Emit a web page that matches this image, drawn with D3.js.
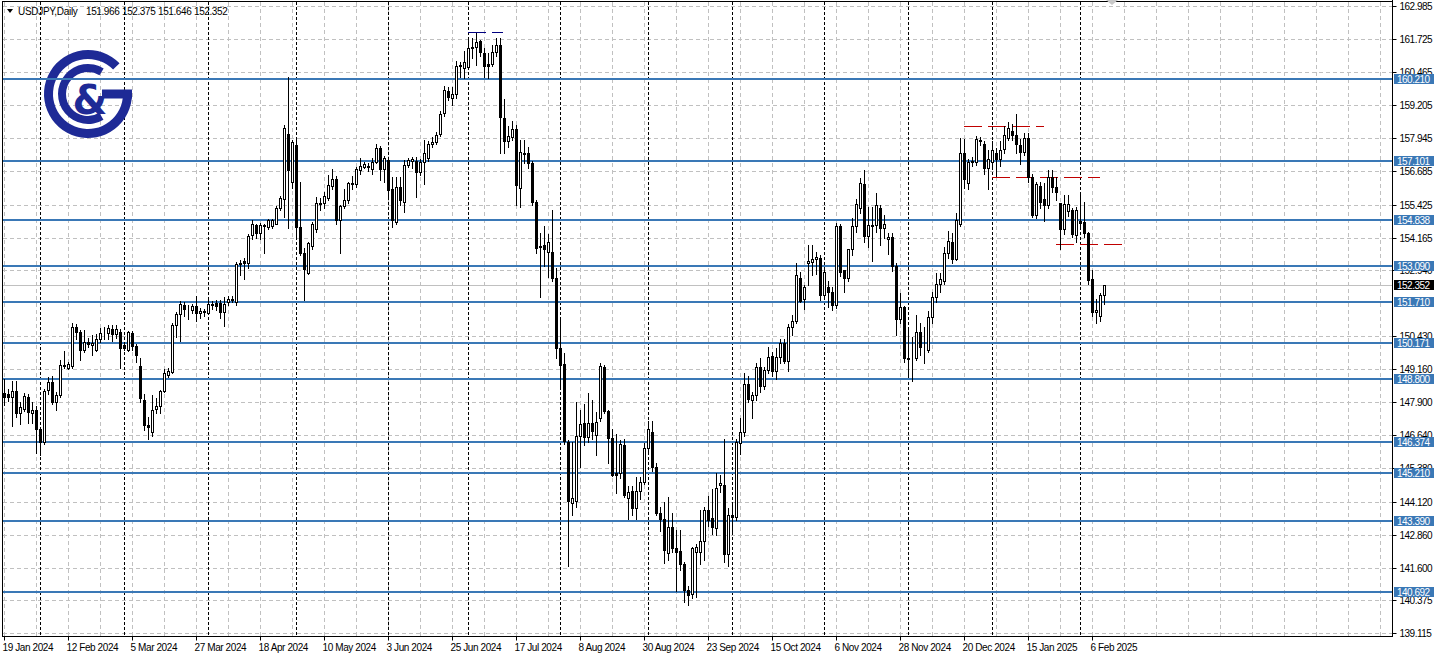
<!DOCTYPE html>
<html><head><meta charset="utf-8">
<script src="https://cdn.jsdelivr.net/npm/d3@7"></script>
<style>html,body{margin:0;padding:0;background:#fff;overflow:hidden}svg{display:block}</style>
</head><body><svg id="c" width="1438" height="658"></svg>
<script>
// ---------------- DATA ----------------
const symbolName = "USDJPY,Daily";
const firstDate = "2024-01-19";
const skippedDays = ["2024-12-25", "2025-01-01"];
const openP = [
148.24,148.20,148.09,148.33,147.48,147.63,148.09,147.48,147.60,146.88,
146.40,148.37,148.66,147.92,148.18,149.32,149.22,149.29,150.78,150.59,
149.89,150.20,150.08,149.89,150.30,150.52,150.52,150.69,150.49,150.59,
150.08,149.89,150.52,150.05,149.28,147.99,147.03,146.78,147.63,147.75,
148.33,148.94,149.06,150.84,151.25,151.60,151.43,151.40,151.56,151.30,
151.36,151.28,151.60,151.69,151.67,151.32,151.73,151.78,151.73,153.16,
153.28,153.20,154.27,154.65,154.36,154.62,154.56,154.60,154.70,155.28,
155.62,158.10,156.30,157.69,154.58,153.59,152.83,153.85,154.48,155.47,
155.47,155.66,156.13,156.38,154.84,155.37,155.60,156.20,156.20,156.74,
156.87,156.90,156.77,157.06,157.57,156.77,157.12,156.00,154.77,156.08,
155.54,156.93,157.10,157.10,156.68,157.06,157.18,157.75,157.80,158.10,
158.90,159.75,159.50,159.62,160.71,160.64,160.67,161.37,161.44,161.65,
161.18,160.76,160.76,161.25,161.50,158.71,157.85,158.00,158.32,156.04,
157.38,157.37,156.99,155.54,153.85,153.90,153.63,153.63,152.62,149.95,
149.35,146.40,144.08,144.15,146.60,147.10,146.56,147.10,146.65,147.29,
149.23,147.58,146.53,145.22,145.20,146.27,144.24,144.53,143.89,144.53,
144.88,146.15,146.78,145.45,143.67,143.44,142.15,143.16,142.36,142.24,
141.73,140.75,140.60,142.21,142.20,142.60,143.80,143.48,143.10,144.75,
144.75,142.12,143.61,143.55,146.36,146.78,148.60,147.99,148.16,149.23,
148.52,149.13,149.66,149.10,149.61,150.14,149.48,150.75,151.00,152.62,
151.82,153.20,153.25,153.35,153.38,151.98,152.30,152.11,151.60,154.61,
152.93,152.62,153.72,154.61,155.28,156.21,154.23,154.65,154.65,155.28,
154.52,154.10,154.18,153.09,151.06,151.51,149.55,149.60,149.57,150.59,
149.99,149.89,151.16,151.90,152.40,152.53,153.57,154.01,153.34,154.70,
157.40,156.26,157.05,157.06,157.90,157.73,156.80,157.06,157.38,157.15,
157.53,157.95,158.24,158.07,157.69,157.44,157.95,156.46,155.03,156.14,
155.63,155.41,156.46,156.08,155.50,154.48,155.19,155.22,154.27,154.80,
154.77,154.33,152.58,151.35,151.18,151.966];
const highP = [
148.80,148.40,148.71,148.70,147.92,148.24,148.20,147.92,147.75,146.95,
148.40,148.87,148.90,148.30,149.50,149.85,149.45,150.90,150.86,150.65,
150.65,150.33,150.46,150.50,150.72,150.78,150.84,150.84,150.84,150.70,
150.20,150.60,150.60,150.10,149.60,148.20,147.35,148.18,148.05,148.37,
149.15,149.20,150.90,151.35,151.77,151.70,151.60,151.65,151.95,151.50,
151.45,151.78,151.75,151.80,151.80,151.90,151.95,151.95,153.24,153.30,
153.40,154.30,154.84,154.70,154.72,154.70,154.86,154.88,155.36,155.75,
158.45,160.27,157.90,157.98,156.30,153.76,154.00,154.78,155.70,155.66,
155.92,156.55,156.77,156.50,155.40,156.00,156.30,156.50,156.85,157.18,
157.05,157.00,157.20,157.73,157.65,157.27,157.20,156.49,156.46,156.48,
157.12,157.20,157.25,157.25,157.15,157.90,157.85,158.00,158.20,159.00,
159.95,159.90,159.90,160.89,160.85,161.27,161.75,161.75,161.94,161.70,
161.37,161.18,161.50,161.78,161.75,159.44,158.40,158.60,158.45,157.88,
157.88,157.63,157.10,155.60,154.33,154.60,154.30,155.20,153.00,151.03,
149.76,146.45,146.40,147.90,147.60,147.83,148.24,147.99,147.54,149.38,
149.30,147.60,146.90,146.70,146.46,146.50,144.70,144.70,145.07,145.07,
146.33,147.20,147.20,145.60,143.90,144.11,144.30,143.70,143.04,143.04,
141.80,140.90,142.40,142.50,143.80,143.93,144.33,144.58,145.22,145.13,
146.50,143.86,144.00,146.50,147.30,149.00,148.90,148.30,149.38,149.57,
149.23,149.99,149.80,149.95,150.30,150.30,150.88,151.22,153.19,152.87,
152.36,153.90,153.88,153.63,153.50,152.95,152.53,152.30,154.71,154.70,
152.95,153.75,154.90,155.63,156.42,156.74,155.35,155.35,155.88,155.41,
155.03,154.33,154.33,153.20,152.05,151.55,150.78,150.40,151.22,150.90,
150.78,151.39,152.10,152.83,152.83,153.80,154.43,154.33,155.09,157.95,
157.91,157.15,157.22,158.03,158.00,157.86,157.50,157.86,157.57,157.86,
158.41,158.58,158.49,158.87,157.91,158.14,158.16,156.60,156.30,156.30,
156.26,156.74,156.74,156.49,155.50,155.80,155.80,155.28,155.35,155.85,
155.54,154.40,152.94,151.82,152.05,152.375];
const lowP = [
147.80,147.95,146.99,147.35,147.07,147.55,147.10,147.12,145.98,145.89,
146.30,148.20,147.85,147.60,148.10,149.19,149.15,149.20,150.30,149.51,
149.83,150.00,149.70,149.85,150.20,150.30,150.30,150.25,150.35,149.19,
149.90,149.85,149.90,149.44,147.90,146.84,146.50,146.60,147.50,147.50,
148.30,148.85,149.00,150.40,150.25,151.20,151.06,151.30,151.00,151.10,
151.20,151.25,151.45,151.40,151.10,150.80,151.60,151.70,151.60,152.75,
152.60,153.00,154.13,154.14,154.10,153.57,154.50,154.55,154.70,155.20,
154.96,154.52,156.04,154.20,153.50,151.79,152.80,153.75,154.40,155.20,
155.30,155.60,156.00,154.70,153.57,155.30,155.50,156.00,156.10,156.60,
156.80,156.70,156.60,157.00,156.36,156.30,155.66,154.58,154.70,155.40,
155.15,156.85,156.80,155.70,156.55,156.20,157.10,157.60,157.75,158.05,
158.80,159.40,159.20,159.50,160.30,160.23,160.60,160.99,160.74,161.10,
160.30,160.26,160.70,161.10,157.38,157.40,157.60,157.90,155.40,155.35,
157.00,156.80,155.40,153.60,151.92,153.10,152.68,152.50,149.57,148.43,
146.30,141.67,143.60,143.90,145.45,146.27,146.40,146.50,145.89,147.20,
147.50,145.60,145.10,144.46,145.00,144.30,143.44,143.60,143.45,144.20,
144.80,146.00,145.30,143.60,143.00,141.77,141.90,142.20,140.70,141.50,
140.30,140.20,140.45,140.50,141.75,141.90,143.20,142.90,142.85,144.50,
141.80,141.67,142.97,143.40,145.93,146.60,147.90,147.30,148.00,148.30,
148.40,149.00,148.90,148.80,149.40,149.38,149.10,150.46,150.90,151.70,
151.44,152.36,152.75,152.80,151.79,151.85,151.54,151.40,151.50,152.70,
152.10,152.50,153.50,154.40,155.10,154.00,153.82,153.26,154.40,153.89,
154.14,153.54,152.90,150.46,150.90,149.45,148.87,148.70,149.50,149.70,
149.38,149.80,150.90,151.70,152.10,152.40,153.40,153.20,153.30,154.60,
156.04,156.00,156.90,156.95,157.70,156.60,156.00,156.80,156.50,156.90,
157.40,157.90,157.90,157.40,156.97,157.30,156.30,154.95,154.90,155.30,
154.81,155.30,155.90,155.60,153.72,154.30,155.00,154.20,154.00,154.60,
154.20,152.40,151.20,150.93,151.00,151.646];
const closeP = [
148.11,148.09,148.33,147.48,147.70,148.14,147.54,147.60,146.88,146.40,
148.33,148.66,147.92,148.18,149.32,149.28,149.34,150.78,150.59,149.89,
150.21,150.12,150.14,150.30,150.55,150.55,150.71,150.49,150.69,149.95,
149.95,150.56,150.06,149.70,148.05,147.03,146.95,147.62,147.75,148.33,
149.00,149.10,150.84,151.25,151.64,151.45,151.41,151.56,151.28,151.37,
151.32,151.63,151.65,151.56,151.32,151.63,151.82,151.84,153.16,153.22,
153.20,154.24,154.69,154.36,154.65,154.64,154.84,154.84,155.28,155.66,
158.33,156.74,157.82,154.58,153.59,152.96,153.95,154.69,155.47,155.45,
155.75,156.17,156.38,154.84,155.37,155.60,156.23,156.23,156.77,156.90,
156.97,156.85,157.06,157.57,156.77,157.19,155.98,154.84,156.08,155.60,
156.93,157.12,157.15,156.68,157.06,157.38,157.75,157.82,158.07,158.86,
159.79,159.53,159.62,160.71,160.74,160.84,161.37,161.44,161.63,161.22,
160.71,160.71,161.25,161.50,158.77,157.85,158.05,158.32,156.17,157.41,
157.35,156.99,155.54,153.79,153.82,153.74,153.99,152.62,149.95,149.32,
146.44,144.15,144.24,146.60,147.06,146.56,147.12,146.82,147.16,149.28,
147.58,146.53,145.13,145.13,146.30,144.37,144.50,143.89,144.53,144.88,
146.15,146.87,145.45,143.67,143.44,142.27,143.16,142.36,142.21,141.73,
140.75,140.56,142.34,142.40,142.62,143.80,143.42,143.14,144.62,144.81,
142.12,143.61,143.52,146.40,146.78,148.60,148.01,148.16,149.23,148.52,
149.13,149.61,149.10,149.61,150.14,149.48,150.75,151.00,152.74,151.77,
152.27,153.28,153.35,153.44,151.98,152.87,152.11,151.60,154.61,152.87,
152.62,153.72,154.61,155.45,156.23,154.23,154.65,154.60,155.41,154.52,
154.69,154.18,153.09,151.06,151.51,149.57,149.60,149.58,150.59,149.99,
150.00,151.16,151.90,152.40,152.58,153.57,154.05,153.34,154.84,157.40,
156.39,157.06,157.10,157.91,157.86,156.80,157.15,157.50,157.15,157.50,
158.07,158.33,158.07,157.73,157.44,157.95,156.46,155.03,156.21,155.54,
155.41,156.46,156.08,155.92,154.48,155.45,155.45,154.30,155.22,154.74,
154.33,152.55,151.35,151.41,151.98,152.352];

const timeLabels = ["19 Jan 2024","12 Feb 2024","5 Mar 2024","27 Mar 2024","18 Apr 2024","10 May 2024",
  "3 Jun 2024","25 Jun 2024","17 Jul 2024","8 Aug 2024","30 Aug 2024","23 Sep 2024","15 Oct 2024",
  "6 Nov 2024","28 Nov 2024","20 Dec 2024","15 Jan 2025","6 Feb 2025"];
const priceTicks = [162.985,161.725,160.465,159.205,157.945,156.685,155.425,154.165,152.940,
  150.430,149.160,147.900,146.640,145.380,144.120,142.860,141.600,140.375,139.115];
const levelPrices = [160.210,157.101,154.838,153.090,151.710,150.171,148.800,146.374,145.210,143.390,140.692];
const redLevels = [[240,260,158.417],[247,274,156.46],[263,279.5,153.91]];   // [from bar, to bar, price]
const navyLevels = [[116,124.8,161.98]];
const lastPrice = 152.352;

// ---------------- SETUP ----------------
const svg = d3.select("#c");
const W = 1438, H = 658;
const L = 3, R = 1392, T = 2, B = 636;
const FONT = "'Liberation Sans', Arial, sans-serif";

// dates
const skip = new Set(skippedDays);
const fmtKey = d3.timeFormat("%Y-%m-%d");
const dates = [];
let d = d3.timeParse("%Y-%m-%d")(firstDate);
while (dates.length < closeP.length) {
  const wd = d.getDay();
  if (wd !== 0 && wd !== 6 && !skip.has(fmtKey(d))) dates.push(new Date(d));
  d = d3.timeDay.offset(d, 1);
}
const fmtLabel = d3.timeFormat("%-d %b %Y");

const x = d3.scaleLinear().domain([0, closeP.length - 1]).range([4, 4 + 4 * (closeP.length - 1)]);
const y = d3.scaleLinear().domain([139.115, 162.985]).range([633, 6]);
const px = v => Math.round(x(v));
const py = v => Math.round(y(v));

svg.append("rect").attr("width", W).attr("height", H).attr("fill", "#fff");

const defs = svg.append("defs");
defs.append("clipPath").attr("id", "plot").append("rect")
  .attr("x", L).attr("y", T).attr("width", R - L).attr("height", B - T);
const plot = svg.append("g").attr("clip-path", "url(#plot)");

// horizontal grid
plot.append("g").selectAll("line").data(priceTicks).join("line")
  .attr("x1", L).attr("x2", R)
  .attr("y1", v => py(v) + 0.5).attr("y2", v => py(v) + 0.5)
  .attr("stroke", "#c0c0c0").attr("stroke-dasharray", "4,3");

// vertical grid every 8 bars
const gridIdx = d3.range(0, 350, 8);
plot.append("g").selectAll("line").data(gridIdx).join("line")
  .attr("x1", i => px(i) + 0.5).attr("x2", i => px(i) + 0.5)
  .attr("y1", T).attr("y2", B)
  .attr("stroke", "#c0c0c0").attr("stroke-dasharray", "4,3");

// monthly period separators
const sepIdx = dates.map((dt, i) => i).filter(i => i > 0 && dates[i].getMonth() !== dates[i - 1].getMonth());
plot.append("g").selectAll("line").data(sepIdx).join("line")
  .attr("x1", i => px(i) + 0.5).attr("x2", i => px(i) + 0.5)
  .attr("y1", T).attr("y2", B)
  .attr("stroke", "#000").attr("stroke-dasharray", "3,2");

// logo
const logoC = [88, 94], NAVY = "#1e2a96";
const lg = plot.append("g").attr("transform", `translate(${logoC[0]},${logoC[1]})`);
lg.append("path").attr("fill", NAVY)
  .attr("d", d3.arc().innerRadius(35).outerRadius(44).startAngle(Math.PI / 2).endAngle(2 * Math.PI + 0.8)());
lg.append("rect").attr("x", 14).attr("y", -4.5).attr("width", 30).attr("height", 9).attr("fill", NAVY);
lg.append("path").attr("fill", NAVY)
  .attr("d", d3.arc().innerRadius(22).outerRadius(30).startAngle(2.6).endAngle(2 * Math.PI + 0.55)());
lg.append("text").attr("x", 2).attr("y", 20).attr("text-anchor", "middle")
  .attr("font-family", "'DejaVu Sans', sans-serif").attr("font-weight", "bold")
  .attr("font-size", 40).attr("fill", NAVY).text("&");

// level lines
plot.append("g").selectAll("line").data(levelPrices).join("line")
  .attr("x1", L).attr("x2", R)
  .attr("y1", v => py(v)).attr("y2", v => py(v))
  .attr("stroke", "#3a78b6").attr("stroke-width", 2);

// current price line
plot.append("line").attr("x1", L).attr("x2", R)
  .attr("y1", py(lastPrice) + 0.5).attr("y2", py(lastPrice) + 0.5)
  .attr("stroke", "#c0c0c0");

// dashed segments
plot.append("g").selectAll("line").data(redLevels).join("line")
  .attr("x1", r => px(r[0])).attr("x2", r => px(r[1]))
  .attr("y1", r => py(r[2]) + 0.5).attr("y2", r => py(r[2]) + 0.5)
  .attr("stroke", "#c00000").attr("stroke-dasharray", "18,6");
plot.append("g").selectAll("line").data(navyLevels).join("line")
  .attr("x1", r => px(r[0])).attr("x2", r => px(r[1]))
  .attr("y1", r => py(r[2]) + 0.5).attr("y2", r => py(r[2]) + 0.5)
  .attr("stroke", "#000080").attr("stroke-dasharray", "18,6");

// candles
const bars = d3.range(closeP.length);
const cg = plot.append("g");
cg.selectAll("line.w").data(bars).join("line").attr("class", "w")
  .attr("x1", i => px(i) + 0.5).attr("x2", i => px(i) + 0.5)
  .attr("y1", i => py(highP[i])).attr("y2", i => py(lowP[i]) + 1)
  .attr("stroke", "#000");
cg.selectAll("rect").data(bars).join("rect")
  .attr("x", i => px(i) - 0.5).attr("width", 2)
  .attr("y", i => Math.min(py(openP[i]), py(closeP[i])) + 0.5)
  .attr("height", i => Math.abs(py(openP[i]) - py(closeP[i])))
  .attr("fill", i => closeP[i] >= openP[i] ? "#fff" : "#000")
  .attr("stroke", "#000");

// frame
svg.append("rect").attr("x", L - 0.5).attr("y", T - 0.5).attr("width", R - L + 1).attr("height", B - T + 1)
  .attr("fill", "none").attr("stroke", "#000");

// price axis
const ya = d3.axisRight(y).tickValues(priceTicks).tickFormat(d3.format(".3f")).tickSize(4).tickPadding(3).tickSizeOuter(0);
const yg = svg.append("g").attr("transform", `translate(${R + 0.5},0)`).call(ya);
yg.select(".domain").remove();
yg.selectAll(".tick").attr("transform", v => `translate(0,${py(v) + 0.5})`);
yg.selectAll("text").attr("font-family", FONT).attr("font-size", 10).attr("letter-spacing", "-0.5px").attr("fill", "#000");

// level labels
const lab = svg.append("g").selectAll("g").data(levelPrices).join("g")
  .attr("transform", v => `translate(1394,${py(v)})`);
lab.append("rect").attr("x", 0).attr("y", -5).attr("width", 40).attr("height", 10).attr("fill", "#3a78b6");
lab.append("text").attr("x", 3).attr("y", 4).attr("font-family", FONT).attr("font-size", 10)
  .attr("letter-spacing", "-0.5px").attr("fill", "#fff").text(v => d3.format(".3f")(v));
const cur = svg.append("g").attr("transform", `translate(1394,${py(lastPrice)})`);
cur.append("rect").attr("x", 0).attr("y", -5).attr("width", 40).attr("height", 10).attr("fill", "#000");
cur.append("text").attr("x", 3).attr("y", 4).attr("font-family", FONT).attr("font-size", 10)
  .attr("letter-spacing", "-0.5px").attr("fill", "#fff").text(d3.format(".3f")(lastPrice));

// time axis
const labelIdx = timeLabels.map(t => dates.findIndex(dt => fmtLabel(dt) === t));
const xa = d3.axisBottom(x).tickValues(labelIdx).tickFormat(i => fmtLabel(dates[i])).tickSize(4).tickSizeOuter(0);
const xg = svg.append("g").attr("transform", `translate(0,${B + 0.5})`).call(xa);
xg.select(".domain").remove();
xg.selectAll(".tick").attr("transform", i => `translate(${px(i) + 0.5},0)`);
xg.selectAll("text").attr("font-family", FONT).attr("font-size", 10).attr("letter-spacing", "-0.4px")
  .attr("text-anchor", "start").attr("x", -2).attr("y", 7).attr("dy", "0.71em").attr("fill", "#000");
svg.append("line").attr("x1", R + 0.5).attr("x2", R + 0.5).attr("y1", 0).attr("y2", B + 1).attr("stroke", "#000");

// header
const n = closeP.length - 1;
const hdr = svg.append("g");
hdr.append("path").attr("d", "M7,9 L13,9 L10,13 Z").attr("fill", "#000");
hdr.append("text").attr("x", 18).attr("y", 15).attr("font-family", FONT).attr("font-size", 10)
  .attr("letter-spacing", "-0.3px").text(symbolName);
[openP[n], highP[n], lowP[n], closeP[n]].forEach((v, k) => {
  hdr.append("text").attr("x", 86 + k * 36).attr("y", 15).attr("font-family", FONT).attr("font-size", 10)
    .attr("letter-spacing", "-0.4px").text(d3.format(".3f")(v));
});
// chart shift marker
svg.append("path").attr("d", "M1106,0 L1118,0 L1112,5 Z").attr("fill", "#c8c8c8");
</script>
</body></html>
